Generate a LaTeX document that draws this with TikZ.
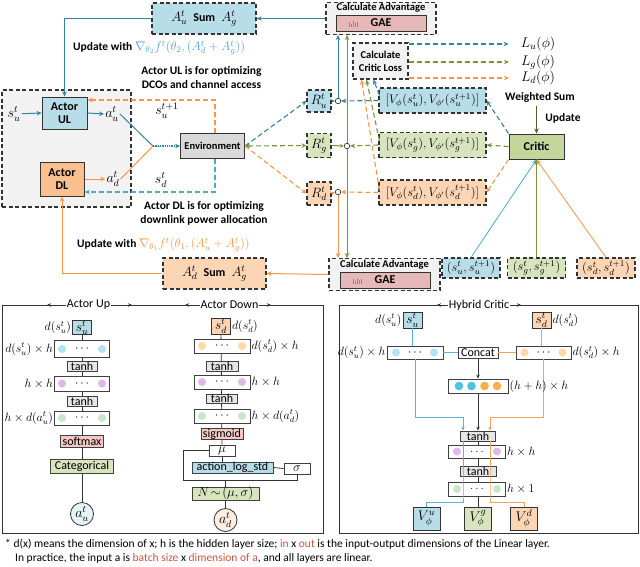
\RequirePackage{fix-cm}
\documentclass[tikz,border=0pt]{standalone}
\usepackage{fontspec}
\setmainfont{Carlito}
\usetikzlibrary{arrows.meta,backgrounds,calc}
\definecolor{cblue}{HTML}{31859C}
\definecolor{lblue}{HTML}{4BACC6}
\definecolor{fmblue}{HTML}{4FA3D9}
\definecolor{corange}{HTML}{F79646}
\definecolor{cgreen}{HTML}{77933C}
\definecolor{dgreen}{HTML}{4F6228}
\definecolor{fblue}{HTML}{B7DEE8}
\definecolor{fgreen}{HTML}{D7E4BD}
\definecolor{forange}{HTML}{FCD5B5}
\definecolor{fgray}{HTML}{D9D9D9}
\definecolor{fpink}{HTML}{E6B9B8}
\definecolor{fcrit}{HTML}{C3D69B}
\definecolor{factor}{HTML}{FAC090}
\definecolor{fbg}{HTML}{F2F2F2}
\definecolor{fred}{HTML}{D0533F}
\definecolor{dotblue}{HTML}{B3E3F0}
\definecolor{dotpurple}{HTML}{DDB8E8}
\definecolor{dotgreen}{HTML}{C9E6C9}
\definecolor{dotorange}{HTML}{FDD9A6}
\definecolor{cyanb}{HTML}{4DC3E0}
\definecolor{orb}{HTML}{FBAE4B}
\definecolor{hblue}{HTML}{5AB4DA}
\definecolor{horange}{HTML}{F7A35C}
\definecolor{tgray}{HTML}{E7E6E6}
\definecolor{spink}{HTML}{F4C7C3}
\newcommand{\LayerDots}[4]{%
  \fill[#3] ($(#1)+(-#2,0)$) circle (4pt);
  \fill[#3] ($(#1)+(#2,0)$) circle (4pt);
  \node[inner sep=0pt, font=\fontsize{12}{12}\selectfont] at (#1) {#4};}
\begin{document}
\begin{tikzpicture}[x=1pt,y=-1pt,
  dbox/.style={draw=black!80, line width=1.1pt, dash pattern=on 4pt off 2.5pt, inner sep=0pt},
  sbox/.style={draw=black!80, line width=1pt, inner sep=0pt},
  tip/.style={-{Stealth[length=5pt,width=4.5pt]}},
  stip/.style={-{Stealth[length=4pt,width=3.5pt]}},
  dl/.style={dash pattern=on 5pt off 3pt, line width=1.1pt},
  sl/.style={line width=1pt},
  bt/.style={font=\fontsize{11.5}{14}\selectfont\bfseries},
  mt/.style={font=\fontsize{14}{14}\selectfont, inner sep=1pt},
  lyr/.style={draw=black!75, line width=0.8pt, fill=white, minimum width=55pt, minimum height=14pt, inner sep=0pt},
  fn/.style={draw=black!75, line width=0.8pt, inner sep=0pt, font=\fontsize{12}{12}\selectfont},
  lab/.style={font=\fontsize{12}{12}\selectfont, inner sep=1pt},
  bl/.style={black!80, line width=0.8pt},
]
\useasboundingbox (0,0) rectangle (640,566);

% ---------------- top part ----------------
\node[dbox, fill=fbg, minimum width=129pt, minimum height=117pt] (cont) at (66.5,148.5) {};
\node[sbox, fill=fblue, minimum width=45pt, minimum height=32pt, align=center, font=\fontsize{12}{13}\selectfont\bfseries] (aul) at (64.5,113) {Actor\\UL};
\node[sbox, fill=factor, minimum width=44pt, minimum height=34pt, align=center, font=\fontsize{12}{13}\selectfont\bfseries] (adl) at (62,179) {Actor\\DL};
\node[mt] (su) at (14,114) {$s_u^t$};
\node[mt] (au) at (112,114) {$a_u^t$};
\node[mt] (ad) at (113,179) {$a_d^t$};
\node[mt] (sun) at (167,111) {$s_u^{t+1}$};
\node[mt] (sdt) at (161,180) {$s_d^t$};
\node[sbox, fill=fgray, minimum width=64pt, minimum height=25pt, font=\fontsize{10.5}{11}\selectfont\bfseries] (env) at (212.5,146) {Environment};
\coordinate (J) at (153,146);

\node[dbox, fill=fblue, minimum width=104pt, minimum height=31pt, font=\fontsize{13.5}{14}\selectfont] (sumu) at (204,18.5) {$A_u^t$\ \ \textbf{\fontsize{12}{12}\selectfont Sum}\ \ $A_g^t$};
\node[dbox, fill=forange, minimum width=103pt, minimum height=31pt, font=\fontsize{13.5}{14}\selectfont] (sumd) at (214.5,273.5) {$A_d^t$\ \ \textbf{\fontsize{12}{12}\selectfont Sum}\ \ $A_g^t$};

\node[anchor=west, bt, inner sep=0pt] (updu) at (73,48) {Update with \textcolor{fmblue}{\mdseries\fontsize{12.5}{14}\selectfont$\nabla_{\theta_2} f^t(\theta_2,(A_d^t+A_g^t))$}};
\node[anchor=west, bt, inner sep=0pt] (updd) at (77,245) {Update with \textcolor{corange}{\mdseries\fontsize{12.5}{14}\selectfont$\nabla_{\theta_1} f^t(\theta_1,(A_u^t+A_g^t))$}};
\node[bt, align=center, font=\fontsize{11.5}{14}\selectfont\bfseries] (txu) at (201.5,77) {Actor UL is for optimizing\\DCOs and channel access};
\node[bt, align=center, font=\fontsize{11.5}{14}\selectfont\bfseries] (txd) at (204,213) {Actor DL is for optimizing\\downlink power allocation};

\node[dbox, fill=fblue, minimum width=24pt, minimum height=22pt, font=\fontsize{13.5}{13}\selectfont] (ru) at (319,101) {$R_u^t$};
\node[dbox, fill=fgreen, minimum width=24pt, minimum height=24pt, font=\fontsize{13.5}{13}\selectfont] (rg) at (319,145.5) {$R_g^t$};
\node[dbox, fill=forange, minimum width=24pt, minimum height=23pt, font=\fontsize{13.5}{13}\selectfont] (rd) at (319,193.5) {$R_d^t$};

\node[dbox, fill=fbg, minimum width=110pt, minimum height=32pt] (gaet) at (381,18.5) {};
\node[font=\fontsize{10.5}{11}\selectfont\bfseries, inner sep=0pt] (gaetl) at (381,8) {Calculate Advantage};
\node[draw=black!80, line width=0.8pt, fill=fpink, minimum width=90pt, minimum height=16pt, inner sep=0pt, font=\fontsize{12}{12}\selectfont\bfseries] (gaeti) at (381,23) {GAE};
\node[dbox, fill=fbg, minimum width=111pt, minimum height=32pt] (gaeb) at (384.5,274.5) {};
\node[font=\fontsize{10.5}{11}\selectfont\bfseries, inner sep=0pt] (gaebl) at (384.5,265) {Calculate Advantage};
\node[draw=black!80, line width=0.8pt, fill=fpink, minimum width=90pt, minimum height=16pt, inner sep=0pt, font=\fontsize{12}{12}\selectfont\bfseries] (gaebi) at (385,280) {GAE};
\foreach \g in {gaeti,gaebi}{
  \foreach \dx/\hh in {0/5,2/3,4/6,6/4,8/5}
    \draw[black!45, line width=0.6pt] ($(\g.west)+(14+\dx,4)$) -- ++(0,-\hh);
}

\node[dbox, fill=fbg, minimum width=55pt, minimum height=36pt, align=center, font=\fontsize{10.5}{13}\selectfont\bfseries] (closs) at (380.5,61) {Calculate\\Critic Loss};
\node[mt] (Lu) at (538,44) {$L_u(\phi)$};
\node[mt] (Lg) at (538,62) {$L_g(\phi)$};
\node[mt] (Ld) at (538,78) {$L_d(\phi)$};

\node[dbox, fill=fblue, minimum width=107pt, minimum height=25pt, font=\fontsize{12.5}{13}\selectfont] (vu) at (432.5,100.5) {$[V_\phi(s_u^t),V_{\phi'}(s_u^{t+1})]$};
\node[dbox, fill=fgreen, minimum width=107pt, minimum height=25pt, font=\fontsize{12.5}{13}\selectfont] (vg) at (432.5,145) {$[V_\phi(s_g^t),V_{\phi'}(s_g^{t+1})]$};
\node[dbox, fill=forange, minimum width=107pt, minimum height=25pt, font=\fontsize{12.5}{13}\selectfont] (vd) at (432.5,192.5) {$[V_\phi(s_d^t),V_{\phi'}(s_d^{t+1})]$};

\node[sbox, fill=fcrit, minimum width=55pt, minimum height=25pt, font=\fontsize{12}{12}\selectfont\bfseries] (critic) at (536.5,146.5) {Critic};
\node[bt] (ws) at (540,97) {Weighted Sum};
\node[bt] (upd) at (563,118) {Update};

\node[dbox, fill=fblue, minimum width=58pt, minimum height=20pt, font=\fontsize{12.5}{12}\selectfont] (sup) at (471,268) {$(s_u^t,s_u^{t+1})$};
\node[dbox, fill=fgreen, minimum width=58pt, minimum height=20pt, font=\fontsize{12.5}{12}\selectfont] (sgp) at (536.5,268) {$(s_g^t,s_g^{t+1})$};
\node[dbox, fill=forange, minimum width=58pt, minimum height=20pt, font=\fontsize{12.5}{12}\selectfont] (sdp) at (606,268) {$(s_d^t,s_d^{t+1})$};

\foreach \n/\p in {cu/{(338,101)},cg/{(347,146)},cd/{(338,192)}}
  \node[circle, draw=black!80, fill=white, line width=0.7pt, inner sep=0pt, minimum size=5.5pt] (\n) at \p {};

% connectors top
\draw[cblue, sl, tip] (sumu.west) -| (aul.north);
\draw[cblue, sl, tip] (gaet.west) -- (sumu.east);
\draw[corange, sl, tip] (sumd.west) -| (adl.south);
\draw[corange, sl, tip] (gaeb.west) -- (sumd.east);
\draw[cblue, sl, tip] (su) -- (aul.west);
\draw[cblue, sl, tip] (aul.east) -- (au.west);
\draw[corange, sl, tip] (adl.east) -- (ad.west);
\draw[cblue, sl] (au.east) -- (J);
\draw[corange, sl] (ad.east) -- (J);
\draw[corange, sl] (J) -- ++(7,0);
\draw[cblue, line width=1.3pt, densely dotted, tip] (J) -- (env.west);
\draw[corange, dl, tip] ([xshift=2.5pt]env.north) |- ([yshift=13pt]aul.east);
\draw[lblue, dl, tip] ([xshift=2.5pt]env.south) |- ([yshift=-13pt]adl.east);

\draw[cblue, dl, tip] (env.east) -- (ru.west);
\draw[cgreen, dl, {Stealth[length=5pt,width=4.5pt]}-{Stealth[length=5pt,width=4.5pt]}] (env.east) -- (rg.west);
\draw[corange, dl, tip] (env.east) -- (rd.west);

\draw[cblue, sl, stip] (ru.east) -- (cu.west);
\draw[cgreen, sl, stip] (rg.east) -- (cg.west);
\draw[corange, sl, stip] (rd.east) -- (cd.west);
\draw[cblue, sl, tip] (cu.north) -- (cu.north |- gaet.south);
\draw[cgreen, sl, tip] (cg.north) -- (cg.north |- gaet.south);
\draw[cgreen, sl, tip] (cg.south) -- (cg.south |- gaeb.north);
\draw[corange, sl, tip] (cd.south) -- (cd.south |- gaeb.north);

\draw[cblue, dl, tip] (vu.west) -- (cu.east);
\draw[cgreen, dl, tip] (vg.west) -- (cg.east);
\draw[corange, dl, tip] (vd.west) -- (cd.east);
\draw[cblue, dl, tip] ([xshift=1pt,yshift=5pt]vu.west) -- ([xshift=-7pt]closs.south);
\draw[cgreen, dl, tip] ([xshift=1pt,yshift=4pt]vg.west) -- ([xshift=-14pt]closs.south);
\draw[corange, dl, tip] ([xshift=1pt,yshift=2pt]vd.west) -- ([xshift=-19pt]closs.south);

\draw[cblue, dl, tip] (closs.east |- Lu) -- ([xshift=-11pt]Lu.west);
\draw[cgreen, dl, tip] (closs.east |- Lg) -- ([xshift=-11pt]Lg.west);
\draw[corange, dl, tip] (closs.east |- Ld) -- ([xshift=-11pt]Ld.west);

\draw[cblue, dl, tip] (critic.north west) -- (vu.east);
\draw[cgreen, dl, tip] (critic.west) -- (vg.east);
\draw[corange, dl, tip] (critic.south west) -- (vd.east);
\draw[dgreen, sl, tip] (ws.south -| critic.north) -- (critic.north);

\draw[lblue, line width=0.8pt, tip] (sup.north) -- (critic.south);
\draw[cgreen, sl, tip] (sgp.north) -- (critic.south);
\draw[corange, line width=0.8pt, tip] (sdp.north) -- (critic.south);

% ---------------- bottom panels ----------------
\draw[bl, line width=0.9pt] (2,305) rectangle (323,533);
\draw[bl, line width=0.9pt] (339,305) rectangle (638,533);
\coordinate (tuL) at (47,305); \coordinate (tuR) at (132,305);
\coordinate (tdL) at (185,305); \coordinate (tdR) at (271,305);
\coordinate (thL) at (437,305); \coordinate (thR) at (521,305);
\node[fill=white, inner sep=1pt, font=\fontsize{12}{12}\selectfont] (tu) at (88.5,305) {Actor Up};
\node[fill=white, inner sep=1pt, font=\fontsize{12}{12}\selectfont] (td) at (229.5,305) {Actor Down};
\node[fill=white, inner sep=1pt, font=\fontsize{12}{12}\selectfont] (th) at (479,305) {Hybrid Critic};
\foreach \a/\b in {tu/tuL,td/tdL,th/thL}{\draw[bl, stip] (\a.west) -- (\b);}
\foreach \a/\b in {tu/tuR,td/tdR,th/thR}{\draw[bl, stip] (\a.east) -- (\b);}

% Actor Up column
\node[fn, draw=black!80, fill=fblue, minimum width=19pt, minimum height=14pt, font=\fontsize{13.5}{12}\selectfont] (suin) at (82,327.5) {$s_u^t$};
\node[lyr, minimum height=17pt] (l1u) at (82,349) {};
\node[fn, fill=tgray, minimum width=30pt, minimum height=10pt] (t1u) at (82,366) {tanh};
\node[lyr, minimum height=15pt] (l2u) at (82,383.5) {};
\node[fn, fill=tgray, minimum width=30pt, minimum height=10pt] (t2u) at (82,401) {tanh};
\node[lyr, minimum height=14pt] (l3u) at (82,418) {};
\node[fn, fill=spink, minimum width=43pt, minimum height=12pt] (smax) at (82,441) {softmax};
\node[fn, fill=fgreen, minimum width=63pt, minimum height=14pt] (catg) at (82,466) {Categorical};
\node[circle, draw=black!80, line width=0.8pt, fill=fblue!35, minimum size=23pt, inner sep=0pt, font=\fontsize{14}{14}\selectfont] (auout) at (82,514) {$a_u^t$};
\begin{scope}[on background layer]
\draw[bl] (suin) -- (auout);
\end{scope}
\LayerDots{l1u}{20}{dotblue}{$\cdots$}
\LayerDots{l2u}{20}{dotpurple}{$\cdots$}
\LayerDots{l3u}{20}{dotgreen}{$\cdots$}
\node[lab, anchor=east] at (suin.west) {$d(s_u^t)$};
\node[lab, anchor=east] at (l1u.west) {$d(s_u^t)\times h$};
\node[lab, anchor=east] at (l2u.west) {$h\times h$};
\node[lab, anchor=east] at (l3u.west) {$h\times d(a_u^t)$};

% Actor Down column
\node[fn, draw=black!80, fill=forange, minimum width=19pt, minimum height=16pt, font=\fontsize{13.5}{12}\selectfont] (sdin) at (221,326) {$s_d^t$};
\node[lyr, minimum width=56pt] (l1d) at (222,346) {};
\node[fn, fill=tgray, minimum width=32pt, minimum height=10pt] (t1d) at (222,366) {tanh};
\node[lyr, minimum width=56pt] (l2d) at (222,382) {};
\node[fn, fill=tgray, minimum width=31pt, minimum height=9pt] (t2d) at (222,398.5) {tanh};
\node[lyr, minimum width=56pt] (l3d) at (222,416) {};
\node[fn, fill=spink, minimum width=42pt, minimum height=10pt] (sig) at (222,434) {sigmoid};
\node[fn, fill=white, minimum width=26pt, minimum height=11pt, font=\fontsize{13}{12}\selectfont] (mu) at (222,450.5) {$\mu$};
\node[fn, fill=fblue, minimum width=81pt, minimum height=11pt, font=\fontsize{12}{12}\selectfont] (als) at (232.5,467.5) {action\_log\_std};
\node[fn, fill=white, minimum width=26pt, minimum height=11pt, font=\fontsize{13}{12}\selectfont] (sgm) at (297,468.5) {$\sigma$};
\node[fn, fill=fgreen, minimum width=67pt, minimum height=13pt, font=\fontsize{13}{12}\selectfont] (ndist) at (225.5,493.5) {$N\!\sim\!(\mu,\sigma)$};
\node[circle, draw=black!80, line width=0.8pt, fill=forange!40, minimum size=23pt, inner sep=0pt, font=\fontsize{14}{14}\selectfont] (adout) at (225.5,520) {$a_d^t$};
\coordinate (brk) at (183,480);
\begin{scope}[on background layer]
\draw[bl] (sdin) -- (mu);
\draw[bl] (mu) -- (mu |- als.north);
\draw[bl] (mu.west) -| (brk) -| (sgm.south);
\draw[bl] (als.east) -- (sgm.west);
\draw[bl] (ndist.north |- brk) -- (ndist.north);
\draw[bl] (ndist) -- (adout);
\end{scope}
\LayerDots{l1d}{20}{dotorange}{$\cdots$}
\LayerDots{l2d}{20}{dotpurple}{$\cdots$}
\LayerDots{l3d}{20}{dotgreen}{$\cdots$}
\node[lab, anchor=west] at (sdin.east) {$d(s_d^t)$};
\node[lab, anchor=west] at (l1d.east) {$d(s_d^t)\times h$};
\node[lab, anchor=west] at (l2d.east) {$h\times h$};
\node[lab, anchor=west] at (l3d.east) {$h\times d(a_d^t)$};

% Hybrid critic
\node[fn, draw=black!80, fill=fblue, minimum width=19pt, minimum height=16pt, font=\fontsize{13.5}{12}\selectfont] (hsu) at (412.5,320) {$s_u^t$};
\node[fn, draw=black!80, fill=forange, minimum width=19pt, minimum height=16pt, font=\fontsize{13.5}{12}\selectfont] (hsd) at (541.5,320) {$s_d^t$};
\node[lyr, minimum width=56pt, minimum height=13pt] (hlu) at (415,352.5) {};
\node[lyr, minimum width=55pt, minimum height=13pt] (hld) at (543.5,352.5) {};
\node[fn, fill=white, minimum width=40pt, minimum height=11pt] (concat) at (478,352.5) {Concat};
\node[lyr, minimum width=60pt, minimum height=14pt] (hcat) at (478,386) {};
\node[fn, fill=tgray, minimum width=35pt, minimum height=10pt] (ht1) at (478,436) {tanh};
\node[lyr, minimum width=57pt, minimum height=13pt] (hl2) at (477,451.5) {};
\node[fn, fill=tgray, minimum width=36pt, minimum height=10pt] (ht2) at (478,471) {tanh};
\node[lyr, minimum width=57pt, minimum height=14pt] (hl3) at (477,489) {};
\node[fn, draw=black!80, fill=fblue, minimum width=27pt, minimum height=23pt, font=\fontsize{14}{14}\selectfont] (vuo) at (426.5,518.5) {$V_\phi^u$};
\node[fn, draw=black!80, fill=fgreen, minimum width=27pt, minimum height=23pt, font=\fontsize{14}{14}\selectfont] (vgo) at (478,518.5) {$V_\phi^g$};
\node[fn, draw=black!80, fill=forange, minimum width=27pt, minimum height=23pt, font=\fontsize{14}{14}\selectfont] (vdo) at (524,518.5) {$V_\phi^d$};
\LayerDots{hlu}{19}{dotblue}{$\cdots$}
\LayerDots{hld}{19}{dotorange}{$\cdots$}
\LayerDots{hl2}{20}{dotpurple}{$\ldots$}
\LayerDots{hl3}{20}{dotgreen}{$\ldots$}
\foreach \dx/\cc in {-19/cyanb,-6.5/cyanb,6.5/orb,19/orb}
  \fill[\cc] ($(hcat)+(\dx,0)$) circle (4.3pt);
\begin{scope}[on background layer]
\draw[bl] (ht1) -- (vgo);
\end{scope}
\draw[hblue, line width=0.9pt] (hsu.south) -- (hsu.south |- hlu.north);
\draw[hblue, line width=0.9pt] (hlu.east) -- (concat.west);
\draw[horange, line width=0.9pt] (hsd.south) -- (hsd.south |- hld.north);
\draw[horange, line width=0.9pt] (hld.west) -- (concat.east);
\draw[bl, stip] (concat.south) -- (concat.south |- hcat.north);
\draw[bl, stip] (hcat.south) -- (hcat.south |- ht1.north);
\draw[hblue, line width=0.9pt, stip] (hlu.south) |- ([xshift=-15pt,yshift=13pt]ht1.north) -- ([xshift=-15pt]ht1.north);
\draw[horange, line width=0.9pt, stip] (hld.south) |- ([xshift=12pt,yshift=13pt]ht1.north) -- ([xshift=12pt]ht1.north);
\draw[hblue, line width=0.7pt] ([xshift=-15pt]ht1.south) -- ([xshift=-14pt]hl3.south) -- ++(0,6) -| (vuo.north);
\draw[horange, line width=0.7pt] ([xshift=12pt]ht1.south) -- ([xshift=13pt]hl3.south) -- ++(0,6) -| (vdo.north);
\node[lab, anchor=east] at (hsu.west) {$d(s_u^t)$};
\node[lab, anchor=east] at (hlu.west) {$d(s_u^t)\times h$};
\node[lab, anchor=west] at (hsd.east) {$d(s_d^t)$};
\node[lab, anchor=west] at (hld.east) {$d(s_d^t)\times h$};
\node[lab, anchor=west] at (hcat.east) {$(h+h)\times h$};
\node[lab, anchor=west] at (hl2.east) {$h\times h$};
\node[lab, anchor=west] at (hl3.east) {$h\times 1$};

% footer
\node[anchor=west, inner sep=0pt, font=\fontsize{11.5}{12}\selectfont] (f1) at (5,544) {* d(x) means the dimension of x; h is the hidden layer size; \textcolor{fred}{in} x \textcolor{fred}{out} is the input-output dimensions of the Linear layer.};
\node[anchor=west, inner sep=0pt, font=\fontsize{11.5}{12}\selectfont] (f2) at (15,558) {In practice, the input a is \textcolor{fred}{batch size} x \textcolor{fred}{dimension of a}, and all layers are linear.};
\end{tikzpicture}
\end{document}
